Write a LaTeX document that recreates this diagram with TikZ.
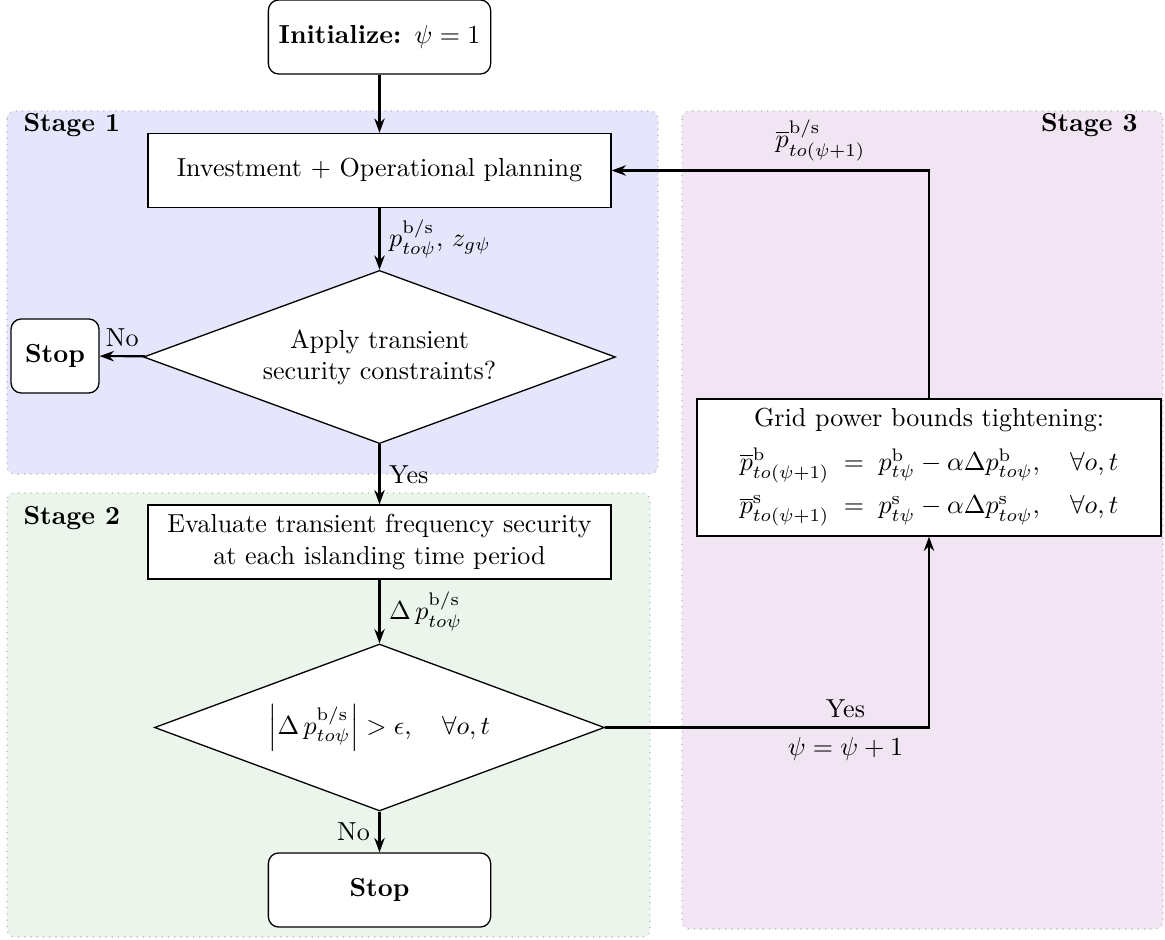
\documentclass[tikz,border=0pt]{standalone}
\usepackage{amsmath}
\usetikzlibrary{shapes.geometric,arrows.meta}
\definecolor{stageone}{RGB}{229,229,252}
\definecolor{stagetwo}{RGB}{235,245,235}
\definecolor{stagethree}{RGB}{241,229,243}
\begin{document}
\begin{tikzpicture}[x=0.384pt,y=-0.384pt,
  stagebox/.style={draw=gray!60, dotted, line width=0.4pt, rounded corners=3pt},
  stagelabel/.style={font=\bfseries, inner sep=0pt},
  procbox/.style={draw, line width=0.5pt, fill=white, minimum width=177.8pt,
    minimum height=28.45pt, inner sep=3pt, align=center},
  termbox/.style={draw, line width=0.5pt, fill=white, rounded corners=4pt,
    minimum height=28.45pt, font=\bfseries},
  decision/.style={draw, diamond, line width=0.5pt, fill=white, inner sep=0pt,
    align=center, aspect=2.7},
  flow/.style={-{Stealth[length=5.5pt,width=4pt]}, line width=0.8pt},
]
\useasboundingbox (0,0) rectangle (1165,940);

% stage backgrounds
\path[stagebox, fill=stageone]   (7,111) rectangle (658,474);
\path[stagebox, fill=stagetwo]   (7,493) rectangle (650,937);
\path[stagebox, fill=stagethree] (682,111) rectangle (1163,929);

\node[stagelabel, anchor=west] (s1) at (23,125) {Stage 1};
\node[stagelabel, anchor=west] (s2) at (23,518) {Stage 2};
\node[stagelabel, anchor=east] (s3) at (1138,125) {Stage 3};

% flowchart nodes
\node[termbox, minimum width=85.36pt] (init) at (379.5,37) {Initialize: \mdseries$\psi=1$};
\node[procbox] (inv) at (379.5,170.5) {Investment + Operational planning};
\node[decision, minimum width=181.2pt, minimum height=66.5pt] (dec1) at (379.5,357)
  {Apply transient\\security constraints?};
\node[termbox, minimum width=33.8pt] (stopA) at (55,356) {Stop};
\node[procbox] (eval) at (379.5,542)
  {Evaluate transient frequency security\\at each islanding time period};
\node[decision, minimum width=172.8pt, minimum height=64.1pt] (dec2) at (379.5,727.5)
  {$\left|\Delta\, p^{\mathrm{b/s}}_{to\psi}\right| > \epsilon, \quad \forall o,t$};
\node[termbox, minimum width=85.36pt] (stopB) at (379.5,890) {Stop};
\node[draw, line width=0.5pt, fill=white, minimum width=178.2pt, minimum height=52.6pt,
  align=center, font=\fontsize{10pt}{16.7pt}\selectfont] (grid) at (929,467.5)
  {Grid power bounds tightening:\\
   $\overline{p}^{\mathrm{b}}_{to(\psi+1)} \;=\; p^{\mathrm{b}}_{t\psi} - \alpha\Delta p^{\mathrm{b}}_{to\psi},\quad \forall o,t$\\
   $\overline{p}^{\mathrm{s}}_{to(\psi+1)} \;=\; p^{\mathrm{s}}_{t\psi} - \alpha\Delta p^{\mathrm{s}}_{to\psi},\quad \forall o,t$};

% connectors
\draw[flow] (init) -- (inv);
\draw[flow] (inv) -- node[right] {$p^{\mathrm{b/s}}_{to\psi},\, z_{g\psi}$} (dec1);
\draw[flow] (dec1) -- node[above] {No} (stopA);
\draw[flow] (dec1) -- node[right] {Yes} (eval);
\draw[flow] (eval) -- node[right] {$\Delta\, p^{\mathrm{b/s}}_{to\psi}$} (dec2);
\draw[flow] (dec2) -- node[left] {No} (stopB);
\draw[flow] (dec2.east) -| node[pos=0.371, above] {Yes}
  node[pos=0.371, below] {$\psi=\psi+1$} (grid.south);
\draw[flow] (grid.north) |- node[pos=0.671, above] {$\overline{p}^{\mathrm{b/s}}_{to(\psi+1)}$} (inv.east);
\end{tikzpicture}
\end{document}
